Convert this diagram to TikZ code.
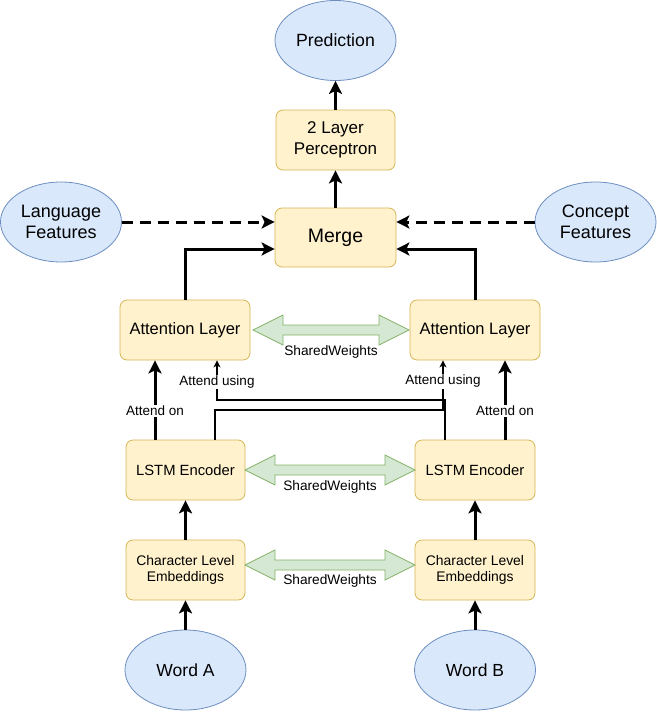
\documentclass[tikz,border=0pt]{standalone}
\usepackage{fontspec}
\setmainfont{Liberation Sans}
\usetikzlibrary{arrows.meta,shapes.geometric}
\definecolor{boxfill}{HTML}{FFF2CC}
\definecolor{boxline}{HTML}{D6B656}
\definecolor{ellfill}{HTML}{DAE8FC}
\definecolor{ellline}{HTML}{6C8EBF}
\definecolor{grfill}{HTML}{D5E8D4}
\definecolor{grline}{HTML}{82B366}
\begin{document}
\begin{tikzpicture}[x=1pt,y=-1pt,
  ybox/.style={draw=boxline,fill=boxfill,rounded corners=7pt,line width=0.8pt,align=center,inner sep=0pt},
  bell/.style={draw=ellline,fill=ellfill,ellipse,line width=0.8pt,minimum width=121pt,minimum height=80pt,align=center,inner sep=0pt},
  thick arr/.style={line width=3pt,-{Stealth[length=13pt,width=13pt,inset=3pt]}},
  thin arr/.style={line width=1.5pt,-{Stealth[length=7pt,width=7pt,inset=2pt]}},
  dash arr/.style={line width=3pt,dash pattern=on 11pt off 7pt,-{Stealth[length=13pt,width=13pt,inset=3pt]}},
  lbl/.style={fill=white,inner sep=1pt,font=\fontsize{13.5}{16}\selectfont},
  swlbl/.style={inner sep=1pt,font=\fontsize{13.7}{16}\selectfont},
  shared/.style={draw=grline,fill=grfill,line width=0.8pt}
]
\useasboundingbox (0,0) rectangle (656,712);
% nodes
\node[bell,font=\fontsize{17.7}{21}\selectfont] (pred) at (335.5,40.5) {Prediction};
\node[ybox,minimum width=119pt,minimum height=60pt,font=\fontsize{17}{21.5}\selectfont] (perc) at (335.5,140) {2 Layer\\Perceptron};
\node[ybox,minimum width=121pt,minimum height=59pt,font=\fontsize{19.5}{22}\selectfont] (merge) at (335.5,237.5) {Merge};
\node[bell,font=\fontsize{18}{20.5}\selectfont] (lang) at (61,222) {Language\\Features};
\node[bell,font=\fontsize{18}{20.5}\selectfont] (conc) at (595.5,222) {Concept\\Features};
\node[ybox,minimum width=130pt,minimum height=60pt,font=\fontsize{16.5}{19}\selectfont] (attL) at (185,330) {Attention Layer};
\node[ybox,minimum width=130pt,minimum height=60pt,font=\fontsize{16.5}{19}\selectfont] (attR) at (475,330) {Attention Layer};
\node[ybox,minimum width=119pt,minimum height=60pt,font=\fontsize{14.8}{17}\selectfont] (lstmL) at (185.5,470) {LSTM Encoder};
\node[ybox,minimum width=120pt,minimum height=60pt,font=\fontsize{14.8}{17}\selectfont] (lstmR) at (475,470) {LSTM Encoder};
\node[ybox,minimum width=119pt,minimum height=60pt,font=\fontsize{13.9}{16.5}\selectfont] (charL) at (185.5,570) {Character Level\\Embeddings};
\node[ybox,minimum width=120pt,minimum height=60pt,font=\fontsize{13.9}{16.5}\selectfont] (charR) at (475,570) {Character Level\\Embeddings};
\node[bell,font=\fontsize{17.5}{20}\selectfont] (wa) at (185.5,670) {Word A};
\node[bell,font=\fontsize{17.5}{20}\selectfont] (wb) at (475,670) {Word B};
% thick arrows
\draw[thick arr] (perc.north) -- (pred.south);
\draw[thick arr] (merge.north) -- (perc.south);
\draw[thick arr] (attL.north) |- (merge.west |- 0,249);
\draw[thick arr] (attR.north) |- (merge.east |- 0,249);
\draw[dash arr] (lang.east) -- (merge.west |- lang.east);
\draw[dash arr] (conc.west) -- (merge.east |- conc.west);
\draw[thick arr] (wa.north) -- (charL.south);
\draw[thick arr] (wb.north) -- (charR.south);
\draw[thick arr] (charL.north) -- (lstmL.south);
\draw[thick arr] (charR.north) -- (lstmR.south);
\draw[thick arr] (lstmL.north -| 155,0) -- node[lbl,pos=0.36] {Attend on} (attL.south -| 155,0);
\draw[thick arr] (lstmR.north -| 505,0) -- node[lbl,pos=0.36] {Attend on} (attR.south -| 505,0);
% thin cross connections
\coordinate (jR) at (443,410);
\coordinate (jL) at (217,400);
\draw[thin arr] (lstmL.north -| 215,0) |- (jR) -- node[lbl,pos=0.58] {Attend using} (attR.south -| jR);
\draw[thin arr] (lstmR.north -| 445,0) |- (jL) -- node[lbl,pos=0.45] {Attend using} (attL.south -| jL);
% shared weight block arrows
\foreach \ya/\xa/\xb in {330/253/409, 470/245/415, 565/245/415}{
  \draw[shared] (\xa,\ya) -- (\xa+30,\ya-15) -- (\xa+30,\ya-5) -- (\xb-30,\ya-5) -- (\xb-30,\ya-15) -- (\xb,\ya) -- (\xb-30,\ya+15) -- (\xb-30,\ya+5) -- (\xa+30,\ya+5) -- (\xa+30,\ya+15) -- cycle;
}
\node[swlbl] (sw1) at (331,352) {SharedWeights};
\node[swlbl] (sw2) at (330,487) {SharedWeights};
\node[swlbl] (sw3) at (330,581) {SharedWeights};
\end{tikzpicture}
\end{document}
